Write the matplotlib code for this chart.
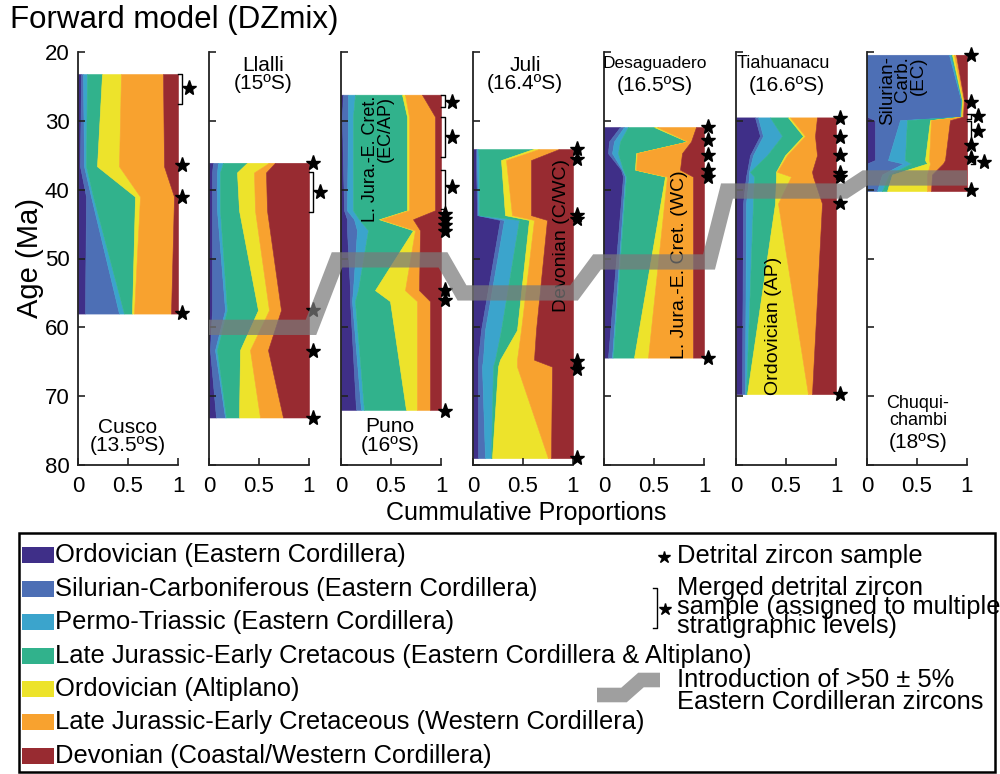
import numpy as np
import matplotlib
matplotlib.use("Agg")
import matplotlib.pyplot as plt
from matplotlib.patches import Rectangle

plt.rcParams['font.family'] = ['Liberation Sans', 'DejaVu Sans']

# ---------------------------------------------------------------- sources
SOURCE_NAMES = [
    "Ordovician (Eastern Cordillera)",
    "Silurian-Carboniferous (Eastern Cordillera)",
    "Permo-Triassic (Eastern Cordillera)",
    "Late Jurassic-Early Cretacous (Eastern Cordillera & Altiplano)",
    "Ordovician (Altiplano)",
    "Late Jurassic-Early Cretaceous (Western Cordillera)",
    "Devonian (Coastal/Western Cordillera)",
]
SOURCE_COLORS = ["#3f2f88", "#4d6fb5", "#3ba4cc", "#31b28c",
                 "#ede32b", "#f8a22f", "#982b31"]

# ------------------------------------------- cumulative proportions by age
# each row: upper boundary of the first six sources (the last one reaches 1)
CUSCO_AGE = [23.2, 36.6, 41.0, 58.0]
CUSCO_CUM = [[0.03, 0.05, 0.09, 0.24, 0.43, 0.85],
             [0.02, 0.06, 0.08, 0.19, 0.41, 0.86],
             [0.08, 0.13, 0.15, 0.57, 0.62, 0.96],
             [0.07, 0.41, 0.46, 0.54, 0.56, 0.93]]
CUSCO_STARS = [36.4, 41.0, 57.9]
CUSCO_MERGED = [(23.2, 27.5, 25.3)]

LLALLI_AGE = [36.1, 37.5, 43.0, 57.5, 63.3, 73.1]
LLALLI_CUM = [[0.04, 0.09, 0.14, 0.38, 0.60, 0.66],
              [0.03, 0.08, 0.11, 0.28, 0.45, 0.57],
              [0.03, 0.08, 0.11, 0.30, 0.46, 0.58],
              [0.03, 0.16, 0.18, 0.49, 0.60, 0.72],
              [0.01, 0.06, 0.08, 0.31, 0.41, 0.59],
              [0.07, 0.16, 0.17, 0.30, 0.51, 0.74]]
LLALLI_STARS = [36.1, 57.5, 63.4, 73.1]
LLALLI_MERGED = [(37.4, 43.2, 40.3)]

PUNO_AGE = [26.2, 29.4, 43.0, 44.3, 45.9, 54.6, 56.2, 72.0]
PUNO_CUM = [[0.02, 0.07, 0.14, 0.61, 0.64, 0.81],
            [0.01, 0.07, 0.12, 0.66, 0.68, 0.94],
            [0.03, 0.06, 0.12, 0.66, 0.68, 0.94],
            [0.06, 0.13, 0.18, 0.38, 0.40, 0.72],
            [0.06, 0.16, 0.27, 0.72, 0.74, 0.79],
            [0.09, 0.12, 0.17, 0.34, 0.64, 0.78],
            [0.09, 0.11, 0.14, 0.49, 0.76, 0.89],
            [0.15, 0.20, 0.23, 0.65, 0.76, 0.89]]
PUNO_STARS = [43.5, 44.3, 45.1, 46.0, 54.6, 56.0, 72.2]
PUNO_MERGED = [(26.2, 28.0, 27.2), (29.4, 35.2, 32.3), (37.2, 42.8, 39.6)]

JULI_AGE = [34.1, 35.7, 43.7, 44.4, 60.4, 64.7, 65.7, 79.0]
JULI_CUM = [[0.03, 0.04, 0.05, 0.60, 0.66, 0.86],
            [0.03, 0.04, 0.06, 0.28, 0.33, 0.58],
            [0.04, 0.05, 0.06, 0.32, 0.39, 0.58],
            [0.27, 0.31, 0.46, 0.56, 0.61, 0.74],
            [0.08, 0.12, 0.28, 0.44, 0.48, 0.63],
            [0.05, 0.10, 0.22, 0.27, 0.44, 0.61],
            [0.05, 0.09, 0.20, 0.25, 0.44, 0.79],
            [0.05, 0.12, 0.18, 0.19, 0.75, 0.78]]
JULI_STARS = [34.1, 35.6, 43.7, 44.2, 64.9, 66.0, 79.0]
JULI_MERGED = []

DESAG_AGE = [30.9, 33.0, 34.7, 37.1, 38.1, 64.4]
DESAG_CUM = [[0.16, 0.20, 0.24, 0.50, 0.53, 0.92],
             [0.05, 0.10, 0.16, 0.83, 0.84, 0.87],
             [0.04, 0.08, 0.14, 0.32, 0.33, 0.78],
             [0.17, 0.18, 0.19, 0.31, 0.32, 0.76],
             [0.19, 0.21, 0.22, 0.61, 0.63, 0.89],
             [0.04, 0.08, 0.09, 0.30, 0.44, 0.89]]
DESAG_STARS = [30.9, 32.8, 35.0, 37.1, 38.1, 64.5]
DESAG_MERGED = []

TIA_AGE = [29.5, 32.2, 35.0, 37.4, 38.1, 42.0, 69.7]
TIA_CUM = [[0.19, 0.22, 0.34, 0.52, 0.54, 0.81],
           [0.24, 0.27, 0.46, 0.67, 0.69, 0.79],
           [0.14, 0.17, 0.31, 0.49, 0.51, 0.81],
           [0.11, 0.13, 0.14, 0.40, 0.41, 0.76],
           [0.10, 0.13, 0.18, 0.40, 0.55, 0.77],
           [0.07, 0.10, 0.17, 0.39, 0.42, 0.86],
           [0.06, 0.09, 0.10, 0.11, 0.72, 0.76]]
TIA_STARS = [29.6, 32.3, 35.0, 37.6, 38.2, 42.0, 69.7]
TIA_MERGED = []

CHUQUI_AGE = [20.4, 27.0, 29.4, 29.9, 35.7, 36.2, 37.8, 40.2]
CHUQUI_CUM = [[0.00, 0.82, 0.84, 0.85, 0.87, 0.89],
              [0.00, 0.94, 0.945, 0.95, 0.96, 0.97],
              [0.00, 0.93, 0.935, 0.94, 0.95, 0.96],
              [0.08, 0.33, 0.40, 0.63, 0.64, 0.83],
              [0.08, 0.21, 0.38, 0.58, 0.62, 0.78],
              [0.00, 0.36, 0.44, 0.60, 0.63, 0.76],
              [0.00, 0.15, 0.22, 0.25, 0.60, 0.65],
              [0.00, 0.10, 0.15, 0.20, 0.60, 0.64]]
CHUQUI_STARS = [20.4, 27.2, 33.5, 35.4, 40.1]
CHUQUI_MERGED = [(29.0, 29.7, 29.3), (30.0, 33.4, 31.5), (35.2, 36.2, 36.0)]

# age at which >50 +/- 5 % Eastern Cordilleran zircons appear (Llalli ... Chuquichambi)
EC_INTRO_AGE = [60.0, 50.2, 55.0, 50.5, 40.2, 38.3]

X_TICKS = [0, 0.5, 1]
X_TICKLABELS = ["0", "0.5", "1"]
Y_TICKS = [20, 30, 40, 50, 60, 70, 80]

# ------------------------------------------------------------------ figure
W, H = 1000, 774
fig = plt.figure(figsize=(W / 100, H / 100), dpi=100)

panel_left_px = [78, 209, 341, 473, 604, 736, 867]
panel_top_px, panel_bot_px = 52, 465

panels = [
    (CUSCO_AGE, CUSCO_CUM, CUSCO_STARS, CUSCO_MERGED),
    (LLALLI_AGE, LLALLI_CUM, LLALLI_STARS, LLALLI_MERGED),
    (PUNO_AGE, PUNO_CUM, PUNO_STARS, PUNO_MERGED),
    (JULI_AGE, JULI_CUM, JULI_STARS, JULI_MERGED),
    (DESAG_AGE, DESAG_CUM, DESAG_STARS, DESAG_MERGED),
    (TIA_AGE, TIA_CUM, TIA_STARS, TIA_MERGED),
    (CHUQUI_AGE, CHUQUI_CUM, CHUQUI_STARS, CHUQUI_MERGED),
]

axes = []
for i, (age, cum, stars, merged) in enumerate(panels):
    ax = fig.add_axes([panel_left_px[i] / W, 1 - panel_bot_px / H,
                       100 / W, (panel_bot_px - panel_top_px) / H])
    axes.append(ax)
    age = np.asarray(age, float)
    cum = np.asarray(cum, float)
    edges = np.column_stack([np.zeros(len(age)), cum, np.ones(len(age))])
    for k in range(7):
        ax.fill_betweenx(age, edges[:, k], edges[:, k + 1],
                         facecolor=SOURCE_COLORS[k], edgecolor=SOURCE_COLORS[k],
                         linewidth=0.4)
    # sample markers
    ax.plot([1.035] * len(stars), stars, linestyle="none", marker="*",
            color="black", ms=11, clip_on=False, zorder=5)
    for top, bot, a in merged:
        bx = 1.035 if i != 6 or a < 35 else 1.08
        sx = 1.11 if i != 6 or a < 35 else 1.17
        ax.plot([bx - 0.04, bx, bx, bx - 0.04], [top, top, bot, bot],
                color="black", lw=1.0, clip_on=False, zorder=5)
        ax.plot([sx], [a], linestyle="none", marker="*", color="black",
                ms=11, clip_on=False, zorder=5)

    ax.set_xlim(0, 1)
    ax.set_ylim(80, 20)
    ax.set_xticks(X_TICKS)
    ax.set_xticklabels(X_TICKLABELS)
    ax.set_yticks(Y_TICKS)
    ax.spines["top"].set_visible(False)
    ax.spines["right"].set_visible(False)
    for s in ("left", "bottom"):
        ax.spines[s].set_linewidth(1.3)
        ax.spines[s].set_color("#222222")
    ax.tick_params(direction="in", length=5, width=1.2, color="#222222",
                   labelsize=16)
    ax.tick_params(axis="x", pad=8)
    ax.tick_params(axis="y", pad=6, labelsize=16, labelleft=(i == 0))
    ax.patch.set_alpha(0)

# locality labels
a0, a1, a2, a3, a4, a5, a6 = axes
a0.text(0.5, 75.9, "Cusco\n(13.5ºS)", ha="center", va="center", fontsize=15,
        linespacing=0.95)
a1.text(0.54, 23.3, "Llalli\n(15ºS)", ha="center", va="center", fontsize=15,
        linespacing=0.95)
a2.text(0.49, 75.8, "Puno\n(16ºS)", ha="center", va="center", fontsize=15,
        linespacing=0.95)
a3.text(0.52, 23.3, "Juli\n(16.4ºS)", ha="center", va="center", fontsize=15,
        linespacing=0.95)
a4.text(0.51, 21.6, "Desaguadero", ha="center", va="center", fontsize=12.5)
a4.text(0.51, 24.8, "(16.5ºS)", ha="center", va="center", fontsize=15)
a5.text(0.47, 21.6, "Tiahuanacu", ha="center", va="center", fontsize=13)
a5.text(0.51, 24.8, "(16.6ºS)", ha="center", va="center", fontsize=15)
a6.text(0.51, 72.3, "Chuqui-\nchambi", ha="center", va="center", fontsize=13,
        linespacing=0.95)
a6.text(0.51, 76.8, "(18ºS)", ha="center", va="center", fontsize=15)

# source labels written inside the columns
a2.text(0.37, 26.4, "L. Jura.-E. Cret.\n(EC/AP)", rotation=90, ha="center",
        va="top", multialignment="right", fontsize=13, linespacing=0.85)
a3.text(0.88, 46.7, "Devonian (C/WC)", rotation=90, ha="center", va="center",
        fontsize=14)
a4.text(0.75, 50.9, "L. Jura.-E. Cret. (WC)", rotation=90, ha="center",
        va="center", fontsize=14)
a5.text(0.37, 59.8, "Ordovician (AP)", rotation=90, ha="center", va="center",
        fontsize=14)
a6.text(0.36, 20.6, "Silurian-\nCarb.\n(EC)", rotation=90, ha="center",
        va="top", multialignment="right", fontsize=13.5, linespacing=0.85)

# --------------------------------------------------------- overlay (pixels)
ov = fig.add_axes([0, 0, 1, 1], zorder=10)
ov.set_xlim(0, W)
ov.set_ylim(H, 0)
ov.axis("off")
ov.patch.set_alpha(0)

to_ov = ov.transData.inverted()
band_x = [(0.0, 1.02), (-0.04, 1.02), (-0.11, 1.01), (-0.07, 1.05),
          (-0.09, 1.09), (-0.02, 1.0)]
pts = []
for ax, age, (xs, xe) in zip(axes[1:], EC_INTRO_AGE, band_x):
    for x in (xs, xe):
        pts.append(to_ov.transform(ax.transData.transform((x, age))))
pts = np.array(pts)
ov.plot(pts[:, 0], pts[:, 1], color="#7a7a7a", alpha=0.72, lw=11,
        solid_joinstyle="miter", solid_capstyle="butt")

# titles
ov.text(10, 20, "Forward model (DZmix)", fontsize=22.5, ha="left", va="center")
ov.text(30, 258, "Age (Ma)", fontsize=21, rotation=90, ha="center",
        va="center")
ov.text(526, 513, "Cummulative Proportions", fontsize=18, ha="center",
        va="center")

# legend box
ov.add_patch(Rectangle((19, 533), 976, 239, fill=False, edgecolor="black",
                       linewidth=1.8))
row_y = [555, 589, 622, 656, 689, 722, 756]
for name, col, y in zip(SOURCE_NAMES, SOURCE_COLORS, row_y):
    ov.add_patch(Rectangle((22, y - 8), 32, 16, facecolor=col, edgecolor="none"))
    ov.text(55, y, name, fontsize=18.4, ha="left", va="center")

ov.plot([664], [557], marker="*", color="black", ms=9, linestyle="none")
ov.text(677, 556, "Detrital zircon sample", fontsize=18.4, ha="left",
        va="center")
ov.plot([653, 657, 657, 653], [588, 588, 628, 628], color="black", lw=1)
ov.plot([665], [609], marker="*", color="black", ms=9, linestyle="none")
ov.text(677, 607, "Merged detrital zircon\nsample (assigned to multiple\n"
        "stratigraphic levels)", fontsize=18.4, ha="left", va="center",
        linespacing=0.74)
ov.plot([597, 624, 641, 660], [695, 695, 680, 680], color="#7a7a7a",
        alpha=0.72, lw=10.5, solid_joinstyle="miter", solid_capstyle="butt")
ov.text(677, 691, "Introduction of >50 ± 5%\nEastern Cordilleran zircons",
        fontsize=18.4, ha="left", va="center", linespacing=0.9)

fig.savefig("out.png", dpi=100)
